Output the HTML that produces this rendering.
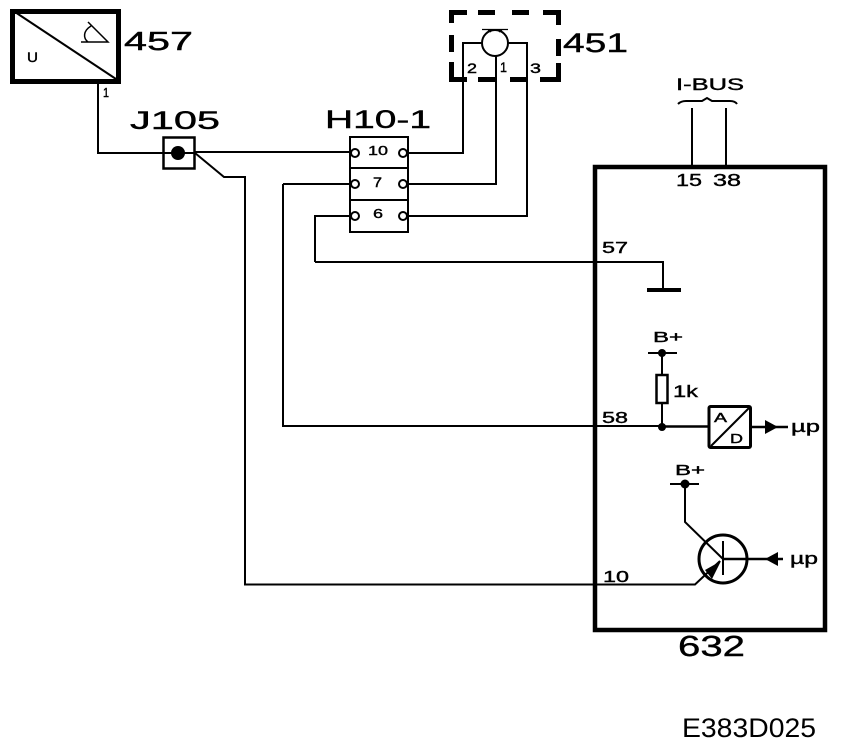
<!DOCTYPE html>
<html><head><meta charset="utf-8"><style>
html,body{margin:0;padding:0;background:#fff}
svg{display:block}
text{font-family:"Liberation Sans",sans-serif;fill:#000;stroke:#000;stroke-width:.4}
.w{fill:none;stroke:#000;stroke-width:2}
</style></head><body>
<svg width="864" height="752" viewBox="0 0 864 752" xmlns="http://www.w3.org/2000/svg">
<rect width="864" height="752" fill="#fff"/>
<!-- 457 -->
<rect x="12.500" y="11.500" width="106" height="70" fill="none" stroke="#000" stroke-width="5"/>
<path class="w" d="M15 12L116 79"/>
<path d="M81 42H108L88 22M91 26C83 31 83 38 88 42" fill="none" stroke="#000" stroke-width="1.500"/>
<text x="27" y="62" font-size="14" textLength="11" lengthAdjust="spacingAndGlyphs">U</text>
<text x="124" y="50" font-size="26" textLength="69" lengthAdjust="spacingAndGlyphs">457</text>
<text x="103" y="97" font-size="13" textLength="6" lengthAdjust="spacingAndGlyphs">1</text>
<!-- J105 -->
<text x="130" y="129" font-size="25" textLength="90" lengthAdjust="spacingAndGlyphs">J105</text>
<rect x="163.500" y="137.500" width="31" height="31" fill="#fff" stroke="#000" stroke-width="2.500"/>
<path class="w" d="M98 83V153H178"/>
<circle cx="178" cy="153" r="7"/>
<path class="w" d="M178 153H195L224 177H245V584.500H695L720 561"/>
<path class="w" d="M195 152H350"/>
<!-- H10-1 -->
<text x="325" y="128" font-size="25" textLength="106" lengthAdjust="spacingAndGlyphs">H10-1</text>
<rect x="350" y="137" width="58" height="95" fill="#fff" stroke="#000" stroke-width="2"/>
<path class="w" d="M350 168H408M350 200H408"/>
<path class="w" d="M283 184H351M315 262V216H351M283 184V426H662"/>
<path class="w" d="M407 153H463V43H484M407 184H496V56M407 216H527V43H508"/>
<g fill="#fff" stroke="#000" stroke-width="2">
<circle cx="355" cy="153" r="4"/><circle cx="403" cy="153" r="4"/>
<circle cx="355" cy="184" r="4"/><circle cx="403" cy="184" r="4"/>
<circle cx="355" cy="216" r="4"/><circle cx="403" cy="216" r="4"/>
</g>
<text x="368" y="155" font-size="13" textLength="20" lengthAdjust="spacingAndGlyphs">10</text>
<text x="373" y="187" font-size="14" textLength="9" lengthAdjust="spacingAndGlyphs">7</text>
<text x="373" y="218" font-size="13" textLength="10" lengthAdjust="spacingAndGlyphs">6</text>
<!-- 451 -->
<g fill="#000">
<path d="M449 10H467V15H454V23H449Z"/>
<rect x="478" y="10" width="17" height="5"/>
<rect x="512" y="10" width="17" height="5"/>
<path d="M543 10H561V25H556V15H543Z"/>
<rect x="449" y="35" width="5" height="17"/>
<rect x="556" y="39" width="5" height="17"/>
<path d="M449 62H454V77H467V82H449Z"/>
<rect x="478" y="77" width="17" height="5"/>
<rect x="510" y="77" width="18" height="5"/>
<path d="M540 77H556V63H561V82H540Z"/>
</g>
<circle cx="495" cy="43" r="13" fill="#fff" stroke="#000" stroke-width="2"/>
<path d="M482 29.500H508M488 30L491 32M502 30L499 32" fill="none" stroke="#000" stroke-width="1.200"/>
<text x="467" y="73" font-size="14" textLength="10" lengthAdjust="spacingAndGlyphs">2</text>
<text x="500" y="72" font-size="14" textLength="7" lengthAdjust="spacingAndGlyphs">1</text>
<text x="530" y="73" font-size="14" textLength="11" lengthAdjust="spacingAndGlyphs">3</text>
<text x="563" y="52" font-size="27" textLength="65" lengthAdjust="spacingAndGlyphs">451</text>
<!-- 632 -->
<rect x="595" y="167" width="230" height="463" fill="none" stroke="#000" stroke-width="4.500"/>
<text x="678" y="656" font-size="29" textLength="67" lengthAdjust="spacingAndGlyphs">632</text>
<text x="676" y="90" font-size="17" textLength="68" lengthAdjust="spacingAndGlyphs">I-BUS</text>
<path d="M678 104Q681 101 686 101H702L707 98L712 101H730Q735 101 737 104" fill="none" stroke="#000" stroke-width="2"/>
<path class="w" d="M692 108V166M726 108V166"/>
<text x="676" y="186" font-size="17.500" textLength="26" lengthAdjust="spacingAndGlyphs">15</text>
<text x="713" y="186" font-size="17.500" textLength="28" lengthAdjust="spacingAndGlyphs">38</text>
<text x="602" y="253" font-size="16" textLength="26" lengthAdjust="spacingAndGlyphs">57</text>
<path class="w" d="M315 262H663V290"/>
<rect x="647" y="288" width="34" height="4"/>
<!-- B+ 1k -->
<text x="653" y="342" font-size="15" textLength="30" lengthAdjust="spacingAndGlyphs">B+</text>
<path class="w" d="M648 353H677M662 353V375M662 403V427"/>
<circle cx="662" cy="353" r="4"/>
<rect x="656.500" y="375" width="11" height="28" fill="#fff" stroke="#000" stroke-width="2.500"/>
<text x="673" y="397" font-size="17" textLength="25" lengthAdjust="spacingAndGlyphs">1k</text>
<text x="602" y="423" font-size="16" textLength="26" lengthAdjust="spacingAndGlyphs">58</text>
<circle cx="662" cy="427" r="4"/>
<path d="M662 426.500H708" fill="none" stroke="#000" stroke-width="2.500"/>
<rect x="709" y="406.500" width="41.500" height="41" rx="1.500" fill="#fff" stroke="#000" stroke-width="3"/>
<path class="w" d="M711 446L750 407"/>
<text x="714" y="422" font-size="13" textLength="13" lengthAdjust="spacingAndGlyphs">A</text>
<text x="730" y="443" font-size="13" textLength="13" lengthAdjust="spacingAndGlyphs">D</text>
<path d="M751 427H788" fill="none" stroke="#000" stroke-width="2.500"/>
<path d="M765 420L778 427L765 434Z"/>
<text x="791" y="432" font-size="17" textLength="29" lengthAdjust="spacingAndGlyphs">µp</text>
<!-- Transistor -->
<text x="675" y="475" font-size="15" textLength="30" lengthAdjust="spacingAndGlyphs">B+</text>
<path class="w" d="M670 484H699M685 484V522L723 559"/>
<circle cx="685" cy="484" r="4.500"/>
<circle cx="723" cy="559" r="24" fill="none" stroke="#000" stroke-width="3"/>
<path class="w" d="M723 541V575"/>
<path d="M723 559H783" fill="none" stroke="#000" stroke-width="2.500"/>
<path d="M778 552L765 559L778 566Z"/>
<path d="M721 561L705 570L712 579Z"/>
<text x="790" y="564" font-size="17" textLength="28" lengthAdjust="spacingAndGlyphs">µp</text>
<text x="603" y="582" font-size="16" textLength="26" lengthAdjust="spacingAndGlyphs">10</text>
<!-- Ref -->
<text x="682" y="737" font-size="27" textLength="134" lengthAdjust="spacingAndGlyphs" style="stroke-width:0">E383D025</text>
</svg>
</body></html>
